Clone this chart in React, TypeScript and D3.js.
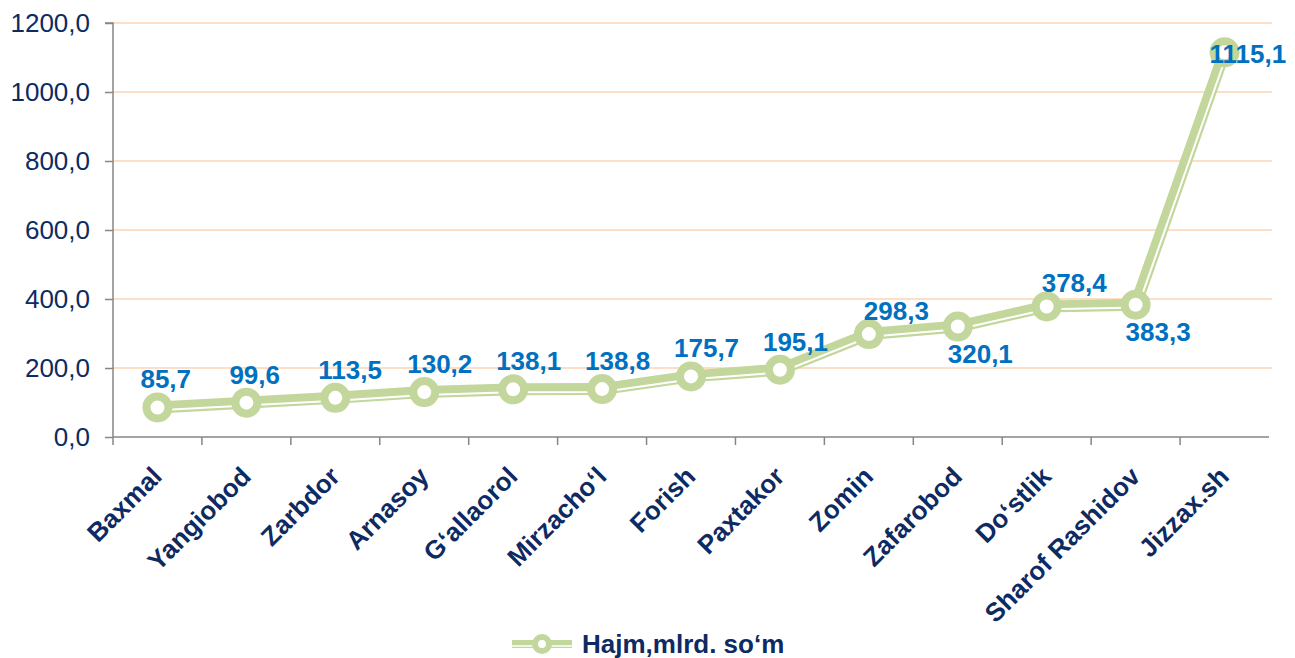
import React, { useEffect, useRef } from "react";
import * as d3 from "d3";

// Districts and volume (mlrd. so'm)
const districts = [
  "Baxmal", "Yangiobod", "Zarbdor", "Arnasoy", "G‘allaorol", "Mirzacho‘l",
  "Forish", "Paxtakor", "Zomin", "Zafarobod", "Do‘stlik", "Sharof Rashidov", "Jizzax.sh",
];
const volumes = [85.7, 99.6, 113.5, 130.2, 138.1, 138.8, 175.7, 195.1, 298.3, 320.1, 378.4, 383.3, 1115.1];
// where each data label sits relative to its point
const labelPlacement = [
  "above", "above", "above", "above", "above", "above",
  "above", "above", "aboveRight", "below", "aboveRight", "below", "right",
];
const yTicks = [0, 200, 400, 600, 800, 1000, 1200];
const seriesName = "Hajm,mlrd. so‘m";

const GREEN = "#c3d69b";
const NAVY = "#0e2a62";
const BLUE = "#0070c0";
const FONT = "'Liberation Sans', Arial, sans-serif";

// offset a polyline sideways (used for the thin white line in the double stroke)
function offsetLine(pts: [number, number][], d: number): [number, number][] {
  const normals = pts.slice(1).map((p, i) => {
    const dx = p[0] - pts[i][0];
    const dy = p[1] - pts[i][1];
    const len = Math.hypot(dx, dy);
    return [-dy / len, dx / len];
  });
  return pts.map((p, i) => {
    const a = normals[Math.max(0, i - 1)];
    const b = normals[Math.min(normals.length - 1, i)];
    let nx = a[0] + b[0];
    let ny = a[1] + b[1];
    const l = Math.hypot(nx, ny);
    nx /= l;
    ny /= l;
    const cos = nx * b[0] + ny * b[1];
    return [p[0] + (nx * d) / cos, p[1] + (ny * d) / cos];
  });
}

const Chart = () => {
  const svgRef = useRef<SVGSVGElement>(null);

  useEffect(() => {
    const width = 1295;
    const height = 658;
    const margin = { top: 23, right: 26, bottom: 221, left: 113 };

    d3.select(svgRef.current).selectAll("*").remove();
    const svg = d3.select(svgRef.current).attr("width", width).attr("height", height);

    const x = d3
      .scaleBand()
      .domain(districts)
      .range([margin.left, width - margin.right]);
    const y = d3
      .scaleLinear()
      .domain([0, 1200])
      .range([height - margin.bottom, margin.top]);

    // grid
    svg.append("g")
      .selectAll("line")
      .data(yTicks.filter((t) => t > 0))
      .enter()
      .append("line")
      .attr("x1", margin.left)
      .attr("x2", width - margin.right + 3)
      .attr("y1", (d) => y(d))
      .attr("y2", (d) => y(d))
      .attr("stroke", "#fcd5b5")
      .attr("stroke-width", 1.5);

    // Y axis
    const yAxis = d3
      .axisLeft(y)
      .tickValues(yTicks)
      .tickSize(8)
      .tickPadding(15)
      .tickFormat((d) => d3.format(".1f")(d as number).replace(".", ","));
    const gy = svg.append("g").attr("transform", `translate(${margin.left},0)`).call(yAxis);
    gy.select(".domain").attr("stroke", "#868686").attr("stroke-width", 1.5)
      .attr("d", `M-8,${y(1200)}H0V${y(0)}`);
    gy.selectAll(".tick line").attr("stroke", "#868686").attr("stroke-width", 1.5);
    gy.selectAll(".tick text")
      .attr("fill", NAVY)
      .attr("font-family", FONT)
      .attr("font-size", 26);

    // X axis
    const xAxis = d3.axisBottom(x).tickSize(0).tickFormat(() => "");
    const gx = svg.append("g").attr("transform", `translate(0,${y(0)})`).call(xAxis);
    gx.select(".domain").attr("stroke", "#868686").attr("stroke-width", 1.5)
      .attr("d", `M${margin.left},0H${width - margin.right}`);
    gx.selectAll(".tick").remove();
    gx.selectAll("line.b")
      .data(districts)
      .enter()
      .append("line")
      .attr("class", "b")
      .attr("x1", (d) => x(d)!)
      .attr("x2", (d) => x(d)!)
      .attr("y1", 0)
      .attr("y2", 8)
      .attr("stroke", "#868686")
      .attr("stroke-width", 1.5);

    // category labels
    svg.append("g")
      .selectAll("text")
      .data(districts)
      .enter()
      .append("text")
      .attr("transform", (d) => `translate(${x(d)! + x.bandwidth() / 2 + 6},${y(0) + 41}) rotate(-45)`)
      .attr("text-anchor", "end")
      .attr("fill", NAVY)
      .attr("font-family", FONT)
      .attr("font-weight", "bold")
      .attr("font-size", 26)
      .text((d) => d);

    // series line
    const pts: [number, number][] = districts.map((d, i) => [x(d)! + x.bandwidth() / 2, y(volumes[i])]);
    const line = d3.line();
    svg.append("path")
      .attr("d", line(pts))
      .attr("fill", "none")
      .attr("stroke", GREEN)
      .attr("stroke-width", 12)
      .attr("stroke-linejoin", "round");
    svg.append("path")
      .attr("d", line(offsetLine(pts, 2.8)))
      .attr("fill", "none")
      .attr("stroke", "#fff")
      .attr("stroke-width", 2);

    // markers
    svg.append("g")
      .selectAll("circle")
      .data(pts)
      .enter()
      .append("circle")
      .attr("cx", (d) => d[0])
      .attr("cy", (d) => d[1])
      .attr("r", 11)
      .attr("fill", "#fff")
      .attr("stroke", GREEN)
      .attr("stroke-width", 8);

    // data labels
    const offsets: Record<string, [number, number]> = {
      above: [-17, -19],
      aboveRight: [-5, -14],
      below: [-10, 36],
      right: [-15, 11],
    };
    svg.append("g")
      .selectAll("text")
      .data(volumes)
      .enter()
      .append("text")
      .attr("x", (d, i) => pts[i][0] + offsets[labelPlacement[i]][0])
      .attr("y", (d, i) => pts[i][1] + offsets[labelPlacement[i]][1])
      .attr("fill", BLUE)
      .attr("font-family", FONT)
      .attr("font-weight", "bold")
      .attr("font-size", 26)
      .text((d) => d3.format(".1f")(d).replace(".", ","));

    // legend
    const lg = svg.append("g").attr("transform", "translate(512,644)");
    lg.append("line").attr("x1", 0).attr("x2", 60).attr("y1", 0).attr("y2", 0)
      .attr("stroke", GREEN).attr("stroke-width", 8);
    lg.append("line").attr("x1", 0).attr("x2", 60).attr("y1", 2).attr("y2", 2)
      .attr("stroke", "#fff").attr("stroke-width", 1.5);
    lg.append("circle").attr("cx", 30).attr("cy", 0).attr("r", 7)
      .attr("fill", "#fff").attr("stroke", GREEN).attr("stroke-width", 6);
    lg.append("text")
      .attr("x", 70)
      .attr("y", 9)
      .attr("fill", NAVY)
      .attr("font-family", FONT)
      .attr("font-weight", "bold")
      .attr("font-size", 26)
      .text(seriesName);
  }, []);

  return <svg ref={svgRef} style={{ position: "absolute", left: 0, top: 0 }}></svg>;
};

export default function App() {
  return <Chart />;
}
